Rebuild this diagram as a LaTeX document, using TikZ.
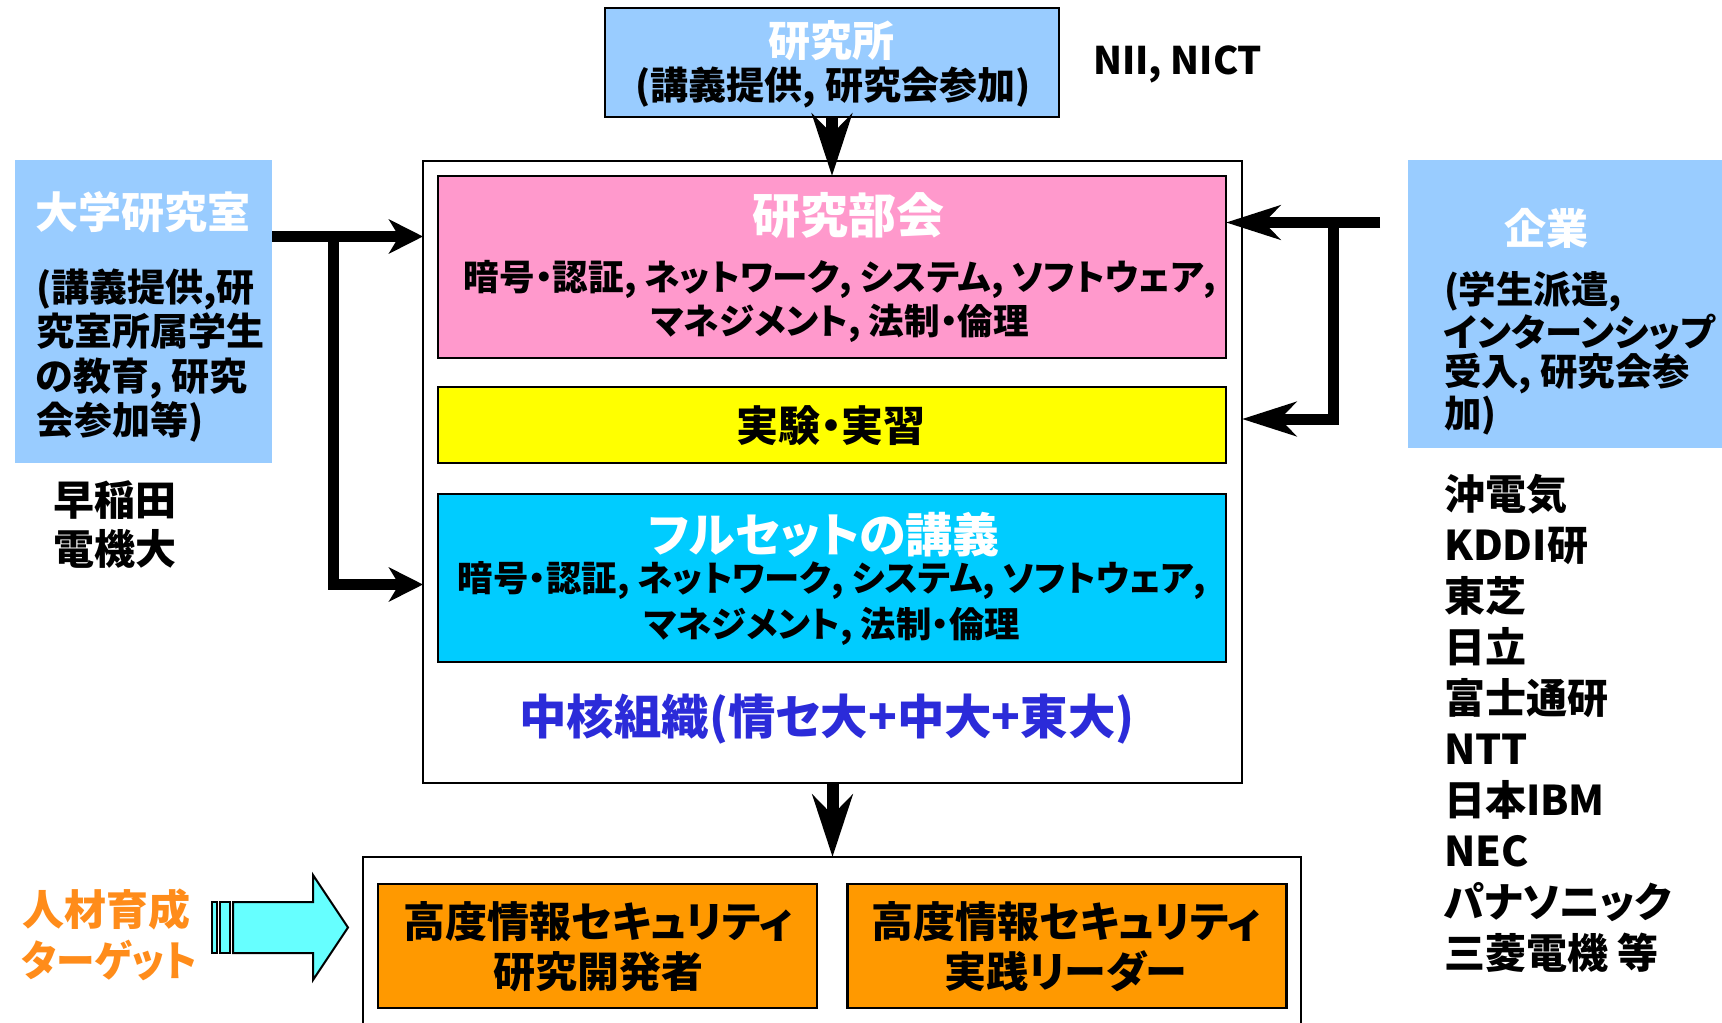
\documentclass[tikz,border=0pt]{standalone}
\usepackage{fontspec}
\usepackage{graphicx}
\setmainfont{Noto Sans CJK JP}[RawFeature=+palt]
\usetikzlibrary{arrows.meta,calc}
\definecolor{lblue}{HTML}{99CCFF}
\definecolor{pinkc}{HTML}{FF99CC}
\definecolor{yellowc}{HTML}{FFFF00}
\definecolor{cyanc}{HTML}{00CCFF}
\definecolor{orangec}{HTML}{FF9900}
\definecolor{arrowc}{HTML}{66FFFF}
\definecolor{corec}{HTML}{2B2BD9}
\definecolor{targetc}{HTML}{FF8C1A}
\begin{document}
\begin{tikzpicture}[x=0.5pt,y=-0.5pt,
  box/.style={draw=black, line width=1.3pt, inner sep=0pt, outer sep=0pt},
  flat/.style={inner sep=0pt, outer sep=0pt},
  txt/.style={inner sep=0pt, outer sep=0pt, align=center},
  ltxt/.style={inner sep=0pt, outer sep=0pt, align=left, anchor=west},
  conn/.style={line width=5.5pt, line join=miter, line cap=butt},
  lhead/.style={-{Stealth[length=17pt,width=17pt,inset=5pt]}},
  rhead/.style={-{Stealth[length=27pt,width=17pt,inset=8pt]}},
  vhead/.style={line width=6pt, -{Stealth[length=31pt,width=20pt,inset=10pt]}},
  bigarrow/.style={draw=black, fill=arrowc, line width=1pt, line join=miter}
]
\useasboundingbox (0,0) rectangle (1722,1022);

% boxes
\node[box, fill=lblue, minimum width=227pt, minimum height=54.5pt] (inst) at (832,62.5) {};
\node[box, minimum width=409.5pt, minimum height=311pt] (core) at (832.5,472) {};
\node[box, fill=pinkc, minimum width=394pt, minimum height=91pt] (pink) at (832,267) {};
\node[box, fill=yellowc, minimum width=394pt, minimum height=38pt] (yellow) at (832,425) {};
\node[box, fill=cyanc, minimum width=394pt, minimum height=84pt] (cyanbox) at (832,578) {};
\node[flat, fill=lblue, minimum width=128.5pt, minimum height=151.5pt] (uni) at (143.5,311.5) {};
\node[flat, fill=lblue, minimum width=166pt, minimum height=144pt] (corp) at (1574,304) {};
\node[box, minimum width=469pt, minimum height=91.5pt] (target) at (832,948.5) {};
\node[box, fill=orangec, minimum width=219.5pt, minimum height=62pt] (orL) at (597.5,946) {};
\node[box, fill=orangec, minimum width=219.5pt, minimum height=62pt] (orR) at (1067,946) {};

% texts
\node[txt, font=\fontsize{21}{24}\selectfont\bfseries, text=white] (instT) at (831,41) {研究所};
\node[txt, font=\fontsize{19}{22}\selectfont\bfseries] (instB) at (833,88) {(講義提供, 研究会参加)};
\node[ltxt, font=\fontsize{19}{24}\selectfont\bfseries] (nii) at (1093,64) {NII, NICT};

\node[txt, font=\fontsize{24}{28}\selectfont\bfseries, text=white] (pinkT) at (848,215) {研究部会};
\node[txt, font=\fontsize{17.8}{22}\selectfont\bfseries] (pinkB) at (840,301) {暗号・認証, ネットワーク, システム, ソフトウェア,\\マネジメント, 法制・倫理};
\node[txt, font=\fontsize{21}{24}\selectfont\bfseries] (yelT) at (831,426) {実験・実習};
\node[txt, font=\fontsize{23.5}{26}\selectfont\bfseries, text=white] (cyT) at (824,535) {フルセットの講義};
\node[txt, font=\fontsize{17.7}{22.5}\selectfont\bfseries] (cyB) at (832,603.5) {暗号・認証, ネットワーク, システム, ソフトウェア,\\マネジメント, 法制・倫理};
\node[txt, font=\fontsize{23.7}{26}\selectfont\bfseries, text=corec] (coreT) at (827,719) {中核組織(情セ大+中大+東大)};

\node[txt, font=\fontsize{21.5}{24}\selectfont\bfseries, text=white] (uniT) at (143,212) {大学研究室};
\node[ltxt, font=\fontsize{19}{22.2}\selectfont\bfseries] (uniB) at (36,355.5) {(講義提供,研\\究室所属学生\\の教育, 研究\\会参加等)};
\node[ltxt, font=\fontsize{20.5}{24.5}\selectfont\bfseries] (wa) at (53,524.5) {早稲田\\電機大};

\node[txt, font=\fontsize{21}{24}\selectfont\bfseries, text=white] (corpT) at (1546,228) {企業};
\node[ltxt, font=\fontsize{18.7}{19.7}\selectfont\bfseries] (corpB) at (1444,353) {(学生派遣,\\インターンシップ\\受入, 研究会参\\加)};
\node[ltxt, font=\fontsize{20.5}{25.5}\selectfont\bfseries] (comp) at (1444,723.5) {沖電気\\KDDI研\\東芝\\日立\\富士通研\\NTT\\日本IBM\\NEC\\パナソニック\\三菱電機 等};

\node[txt, font=\fontsize{21}{25}\selectfont\bfseries] (orLT) at (598,947) {高度情報セキュリティ\\研究開発者};
\node[txt, font=\fontsize{21}{25}\selectfont\bfseries] (orRT) at (1066,947) {高度情報セキュリティ\\実践リーダー};
\node[ltxt, font=\fontsize{21}{25.5}\selectfont\bfseries, text=targetc] (tgt) at (22,934.5) {人材育成\\\scalebox{0.92}[1]{ターゲット}};

% connectors
\draw[vhead] (inst.south) -- (inst.south |- pink.north);
\draw[vhead] (core.south) -- (core.south |- target.north);

\coordinate (lj) at ($(uni.north east)+(0,76.5)$);
\coordinate (lv) at ($(lj)+(61.5,0)$);
\coordinate (lb) at ($(lv)+(0,348)$);
\draw[conn, lhead] (lj) -- (lj -| core.west);
\draw[conn, lhead] (lv) -- (lb) -- (lb -| core.west);

\coordinate (rj) at ($(corp.north west)+(-28,62.5)$);
\coordinate (rv) at ($(rj)+(-47,0)$);
\coordinate (rb) at ($(rv)+(0,196.5)$);
\draw[conn, rhead] (rj) -- (rj -| pink.east);
\draw[conn, rhead] (rv) -- (rb) -- (rb -| core.east);

% big target arrow
\draw[bigarrow] (212,902) rectangle (217,953);
\draw[bigarrow] (220,902) rectangle (230,953);
\draw[bigarrow] (233,902) -- (313,902) -- (313,875) -- (348,927.5) -- (313,980) -- (313,953) -- (233,953) -- cycle;
\end{tikzpicture}
\end{document}
